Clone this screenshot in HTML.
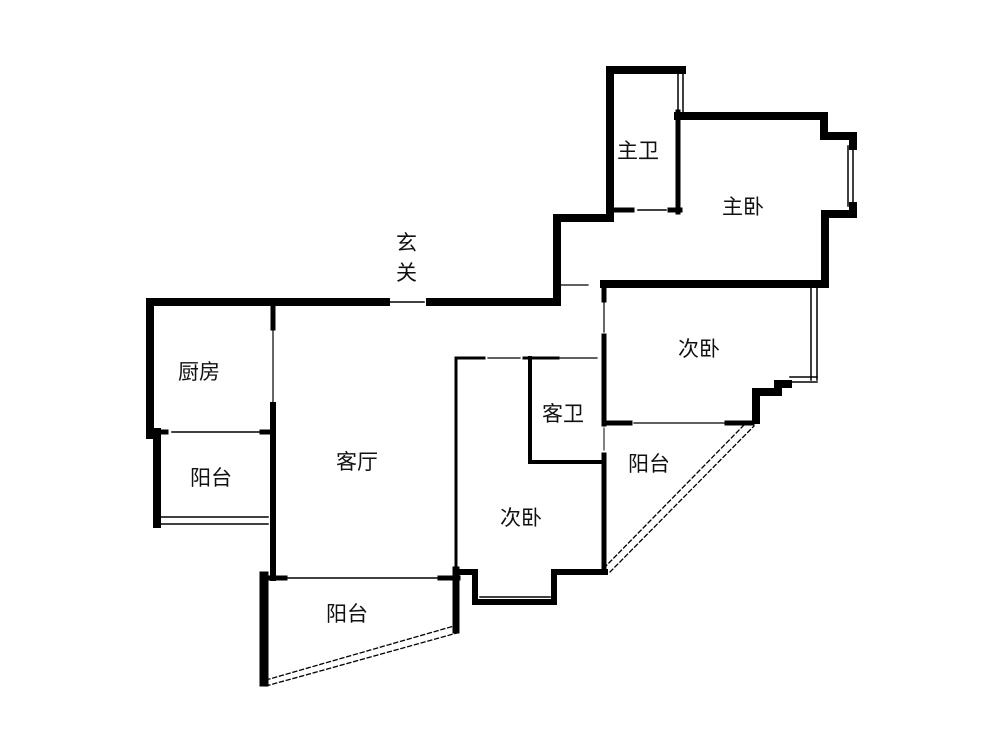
<!DOCTYPE html>
<html><head><meta charset="utf-8"><style>
html,body{margin:0;padding:0;background:#fff;}
svg{display:block}
text{font-family:"Liberation Sans","Noto Sans CJK SC",sans-serif;font-size:21px;fill:#111}
</style></head><body>
<svg width="1000" height="750" viewBox="0 0 1000 750">
<g stroke="#000" fill="none" stroke-linecap="square">
<!-- top outer wall -->
<path d="M150 302 H386" stroke-width="8"/>
<path d="M390 302 H424" stroke-width="1.5"/>
<path d="M430 302 H557 V218 H610 V70 H682" stroke-width="8"/>
<path d="M610 70 V212" stroke-width="6"/>
<path d="M678 74 V112 M683 74 V112" stroke-width="1.5"/>
<path d="M678 112 V212" stroke-width="5"/>
<path d="M678 116 H824 V136 H853 V146" stroke-width="8"/>
<path d="M848 146 V206 M853 146 V206" stroke-width="1.5"/>
<path d="M853 206 V214 H825 V284 H604" stroke-width="8"/>
<!-- master bath door -->
<path d="M612 210 H632" stroke-width="5"/>
<path d="M638 210 H666" stroke-width="1.5"/>
<path d="M670 210 H680" stroke-width="5"/>
<path d="M560 285 H588" stroke-width="1.2"/>
<!-- left -->
<path d="M150 302 V435" stroke-width="8"/>
<path d="M150 432 H166" stroke-width="5"/>
<path d="M172 432 H260" stroke-width="1.5"/>
<path d="M262 432 H272" stroke-width="5"/>
<path d="M157 432 V524" stroke-width="8"/>
<path d="M160 517 H268 M160 524 H268" stroke-width="1.5"/>
<path d="M273 306 V328" stroke-width="5"/>
<path d="M273 330 V402" stroke-width="1.2"/>
<path d="M273 405 V578" stroke-width="6"/>
<!-- living balcony -->
<path d="M264 576 V682" stroke-width="9"/>
<path d="M264 578 H285" stroke-width="5"/>
<path d="M285 578 H440" stroke-width="1.5"/>
<path d="M440 578 H458" stroke-width="5"/>
<path d="M456 570 V630" stroke-width="7"/>
<path d="M266 680 L454 626 M266 686 L457 633" stroke-width="1.3" stroke-dasharray="4 3"/>
<!-- lower bedroom -->
<path d="M456 358 V572" stroke-width="3"/>
<path d="M456 358 H484" stroke-width="3"/>
<path d="M488 358 H520 M560 358 H597" stroke-width="1.2"/>
<path d="M524 358 H558" stroke-width="3"/>
<path d="M530 358 V462 H604" stroke-width="4"/>
<path d="M458 572 H475 V602 H554 V572 H605" stroke-width="6"/>
<path d="M480 597 H550" stroke-width="1.5"/>
<path d="M604 455 V572" stroke-width="5"/>
<!-- upper bedroom -->
<path d="M604 286 V300" stroke-width="5"/>
<path d="M604 302 V332" stroke-width="1.2"/>
<path d="M604 336 V424" stroke-width="5"/>
<path d="M604 428 V450" stroke-width="1"/>
<path d="M811 288 V380 M817 288 V380" stroke-width="1.5"/>
<path d="M790 377 H817 M790 382 H817" stroke-width="1.5"/>
<path d="M778 384 H788 M757 392 H778 V384 M756 392 V420" stroke-width="8"/>
<path d="M604 423 H630" stroke-width="5"/>
<path d="M634 423 H724" stroke-width="1.3"/>
<path d="M727 423 H752" stroke-width="5"/>
<path d="M604 568 L745 424 M610 572 L754 426" stroke-width="1.3" stroke-dasharray="4 3"/>
</g>
<text x="617" y="158">主卫</text>
<text x="722" y="214">主卧</text>
<text x="396" y="250">玄</text>
<text x="396" y="280">关</text>
<text x="178" y="379">厨房</text>
<text x="190" y="485">阳台</text>
<text x="336" y="469">客厅</text>
<text x="326" y="621">阳台</text>
<text x="542" y="421">客卫</text>
<text x="678" y="356">次卧</text>
<text x="628" y="471">阳台</text>
<text x="500" y="525">次卧</text>
</svg>
</body></html>
